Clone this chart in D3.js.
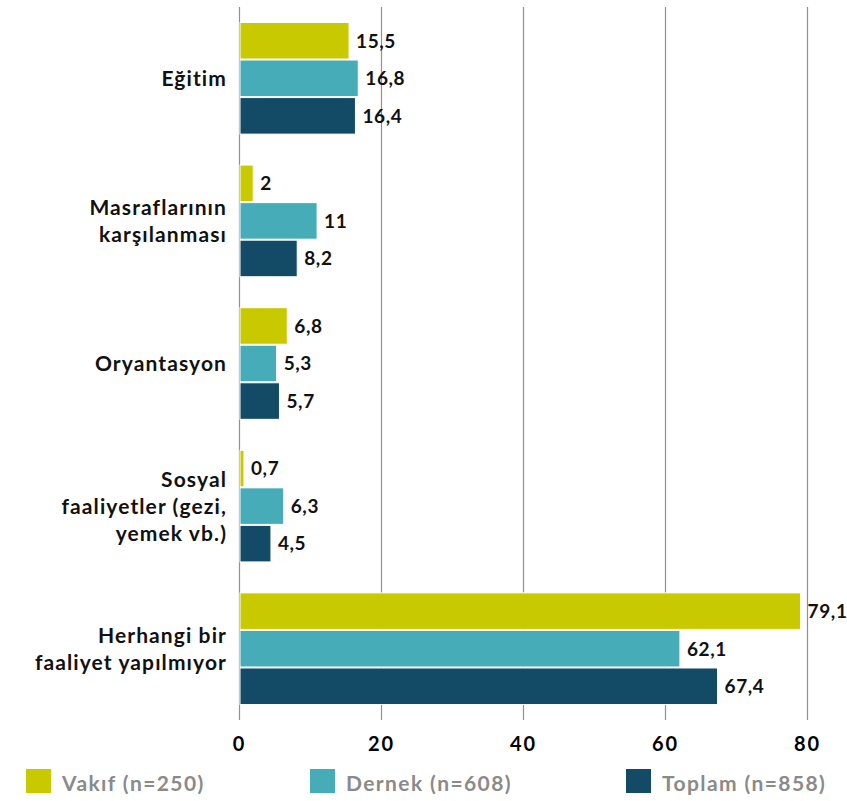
<!DOCTYPE html>
<html>
<head>
<meta charset="utf-8">
<script src="https://cdn.jsdelivr.net/npm/d3@7"></script>
<style>
  body { margin: 0; background: #fff; }
  text { font-family: Lato, "Open Sans", sans-serif; font-weight: 700; }
</style>
</head>
<body>
<svg id="chart"></svg>
<script>
var categories = ["Eğitim", "Masraflarının karşılanması", "Oryantasyon", "Sosyal faaliyetler (gezi, yemek vb.)", "Herhangi bir faaliyet yapılmıyor"];
var categoryLines = [["Eğitim"], ["Masraflarının", "karşılanması"], ["Oryantasyon"], ["Sosyal", "faaliyetler (gezi,", "yemek vb.)"], ["Herhangi bir", "faaliyet yapılmıyor"]];
var seriesNames = ["Vakıf (n=250)", "Dernek (n=608)", "Toplam (n=858)"];
var vakif = [15.5, 2, 6.8, 0.7, 79.1];
var dernek = [16.8, 11, 5.3, 6.3, 62.1];
var toplam = [16.4, 8.2, 5.7, 4.5, 67.4];
var ticks = [0, 20, 40, 60, 80];
var colors = ["#c9c900", "#46adb8", "#134b66"];

var w = 847, h = 801;
var margin = { top: 7, left: 239, right: 40, bottom: 81 };

var svg = d3.select("#chart").attr("width", w).attr("height", h);

var x = d3.scaleLinear().domain([0, 80]).range([margin.left, margin.left + 568]);
var y0 = d3.scaleBand().domain(categories).range([margin.top, h - margin.bottom]).paddingInner(0.21).paddingOuter(0.105);
var y1 = d3.scaleBand().domain(seriesNames).range([0, y0.bandwidth()]);

// gridlines
svg.append("g")
   .selectAll("line")
   .data(ticks)
   .enter()
   .append("line")
   .attr("x1", d => x(d) + 0.5)
   .attr("x2", d => x(d) + 0.5)
   .attr("y1", margin.top)
   .attr("y2", h - margin.bottom)
   .attr("stroke", "#9c8e82")
   .attr("stroke-width", 1.2);

// axis labels
var xAxis = d3.axisBottom(x).tickValues(ticks).tickSize(0).tickPadding(17);
var gx = svg.append("g")
   .attr("transform", "translate(0," + (h - margin.bottom) + ")")
   .call(xAxis);
gx.select(".domain").remove();
gx.selectAll("text")
  .attr("font-size", 20)
  .attr("font-family", "Lato, sans-serif")
  .attr("font-weight", 700)
  .attr("letter-spacing", 2)
  .attr("fill", "#000");

var rows = categories.map(function(c, i) {
  return { cat: c, lines: categoryLines[i], vals: [vakif[i], dernek[i], toplam[i]] };
});

var groups = svg.selectAll("g.grp")
   .data(rows)
   .enter()
   .append("g")
   .attr("class", "grp")
   .attr("transform", d => "translate(0," + y0(d.cat) + ")");

groups.selectAll("rect")
   .data(d => d.vals.map((v, j) => ({ v: v, s: seriesNames[j], j: j })))
   .enter()
   .append("rect")
   .attr("x", x(0) + 1)
   .attr("y", d => y1(d.s) + 0.5)
   .attr("width", d => x(d.v) - x(0) - 1)
   .attr("height", y1.bandwidth() - 1)
   .attr("fill", d => colors[d.j])
   .attr("stroke", "#fff")
   .attr("stroke-width", 1);

groups.selectAll("text.val")
   .data(d => d.vals.map((v, j) => ({ v: v, s: seriesNames[j] })))
   .enter()
   .append("text")
   .attr("class", "val")
   .attr("x", d => x(d.v) + 7)
   .attr("y", d => y1(d.s) + y1.bandwidth() / 2)
   .attr("dy", "0.36em")
   .attr("font-size", 19)
   .attr("letter-spacing", 0.6)
   .attr("fill", "#111")
   .text(d => String(d.v).replace(".", ","));

// category labels
groups.each(function(d) {
  var n = d.lines.length, lh = 27;
  var t = d3.select(this).append("text")
     .attr("text-anchor", "end")
     .attr("font-size", 21)
     .attr("letter-spacing", 1.1)
     .attr("fill", "#111");
  d.lines.forEach(function(l, k) {
    t.append("tspan")
     .attr("x", 227)
     .attr("y", y0.bandwidth() / 2 + (k - (n - 1) / 2) * lh)
     .attr("dy", "0.36em")
     .text(l);
  });
});

// legend
var legX = [26, 310, 626];
var leg = svg.selectAll("g.leg")
   .data(seriesNames)
   .enter()
   .append("g")
   .attr("class", "leg")
   .attr("transform", (d, i) => "translate(" + legX[i] + ",769)");
leg.append("rect")
   .attr("width", 25)
   .attr("height", 24)
   .attr("fill", (d, i) => colors[i]);
leg.append("text")
   .attr("x", 36)
   .attr("y", 14)
   .attr("dy", "0.36em")
   .attr("font-size", 21)
   .attr("letter-spacing", 1.4)
   .attr("fill", "#8a8a8a")
   .text(d => d);
</script>
</body>
</html>
